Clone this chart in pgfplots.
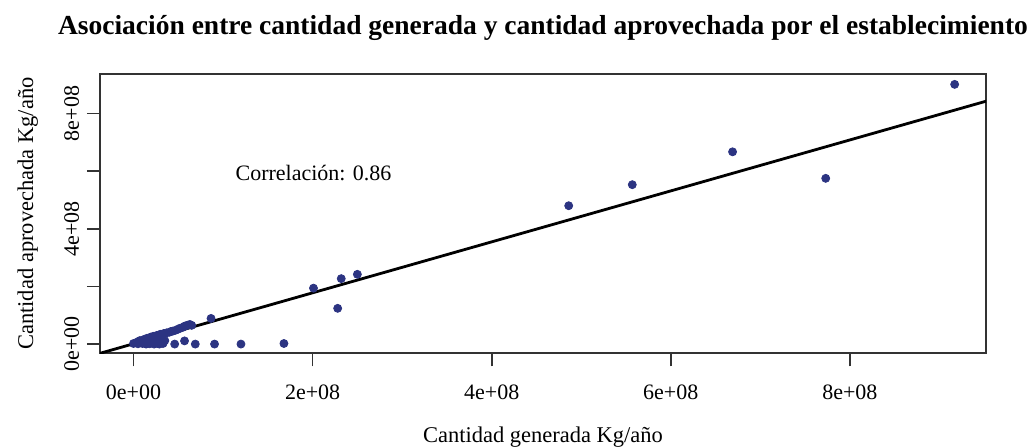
\documentclass[border=0pt]{standalone}
\usepackage{pgfplots}
\pgfplotsset{compat=1.18}
\usepackage{fontspec}
\setmainfont{Liberation Serif}
\definecolor{pt}{RGB}{44,52,130}
\begin{document}
\begin{tikzpicture}
\begin{axis}[
 at={(50pt,-37pt)}, anchor=north west,
 scale only axis, width=443pt, height=139.65pt,
 xmin=-0.374e8, xmax=9.52e8, ymin=-0.32e8, ymax=9.37e8,
 axis line style={line width=0.85pt, black!80},
 tick style={line width=0.85pt, black!80},
 tick align=outside, major tick length=6.5pt,
 xtick={0,2e8,4e8,6e8,8e8}, xticklabels={0e+00,2e+08,4e+08,6e+08,8e+08},
 ytick={0,2e8,4e8,6e8,8e8}, yticklabels={0e+00,,4e+08,,8e+08},
 xtick pos=bottom, ytick pos=left,
 scaled ticks=false,
 ticklabel style={font=\fontsize{11}{13}\selectfont},
 xticklabel style={anchor=base, yshift=-16.7pt},
 yticklabel style={xshift=-4pt, rotate=90, anchor=base},
 clip=true,
]
\addplot[only marks, mark=*, mark size=2pt, pt, mark options={draw=pt, fill=pt}] coordinates {
(0.00e8,0.02e8)(0.03e8,0.05e8)(0.05e8,0.08e8)(0.07e8,0.12e8)(0.09e8,0.10e8)(0.11e8,0.15e8)(0.13e8,0.17e8)(0.15e8,0.2e8)(0.17e8,0.19e8)(0.19e8,0.24e8)(0.21e8,0.22e8)(0.22e8,0.27e8)(0.24e8,0.25e8)(0.26e8,0.3e8)(0.28e8,0.31e8)(0.30e8,0.34e8)(0.32e8,0.33e8)(0.34e8,0.37e8)(0.37e8,0.39e8)(0.40e8,0.41e8)(0.42e8,0.44e8)(0.44e8,0.45e8)(0.47e8,0.48e8)(0.50e8,0.52e8)(0.52e8,0.55e8)(0.55e8,0.58e8)(0.57e8,0.62e8)(0.59e8,0.64e8)(0.61e8,0.66e8)(0.63e8,0.68e8)(0.65e8,0.65e8)
(0.05e8,0.01e8)(0.1e8,0.02e8)(0.14e8,0.0e8)(0.18e8,0.01e8)(0.2e8,0.05e8)(0.23e8,0.0e8)(0.25e8,0.08e8)(0.27e8,0.02e8)(0.29e8,0.0e8)(0.3e8,0.1e8)(0.31e8,0.05e8)(0.33e8,0.02e8)(0.35e8,0.12e8)
(0.46e8,0.0)(0.57e8,0.11e8)(0.69e8,0.0)(0.905e8,0.0)(1.20e8,0.0)(1.68e8,0.02e8)(0.866e8,0.89e8)(2.01e8,1.94e8)(2.28e8,1.24e8)(2.32e8,2.27e8)(2.50e8,2.42e8)(4.86e8,4.80e8)(5.57e8,5.53e8)(6.69e8,6.67e8)(7.73e8,5.75e8)(9.17e8,9.01e8)
};
\addplot[black, line width=1.4pt] coordinates {(-0.5e8,-0.432e8) (10e8,8.85e8)};
\node[anchor=base, font=\fontsize{11}{13}\selectfont] at (axis cs:2.01e8,5.69e8) {Correlación: 0.86};
\end{axis}
\node[anchor=base, font=\bfseries\fontsize{13.75}{16}\selectfont] at (271.5pt,-17.5pt) {Asociación entre cantidad generada y cantidad aprovechada por el establecimiento};
\node[anchor=base, font=\fontsize{11.25}{13}\selectfont] at (271.5pt,-221.5pt) {Cantidad generada Kg/año};
\node[anchor=base, rotate=90, font=\fontsize{11.25}{13}\selectfont] at (16.5pt,-106.8pt) {Cantidad aprovechada Kg/año};
\pgfresetboundingbox
\useasboundingbox (0,0) rectangle (515pt,-224pt);
\end{tikzpicture}
\end{document}
